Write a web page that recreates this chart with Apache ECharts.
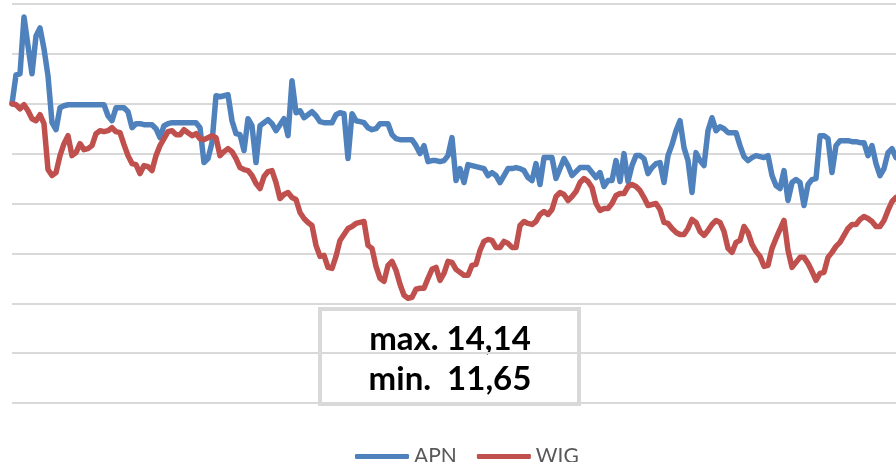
<!DOCTYPE html>
<html>
<head>
<meta charset="utf-8">
<script src="https://cdn.jsdelivr.net/npm/echarts@6/dist/echarts.min.js"></script>
<style>
  html, body { margin: 0; padding: 0; background: #fff; }
  #chart { width: 896px; height: 462px; }
</style>
</head>
<body>
<div id="chart"></div>
<script>
// index levels (start = 100), one value per session
const apn = [
  100.0, 105.8, 106.0, 117.4, 111.6, 106.0, 113.6, 115.2, 111.0, 105.6,
  96.2, 94.8, 99.2, 99.6, 99.8, 99.8, 99.8, 99.8, 99.8, 99.8,
  99.8, 99.8, 99.8, 99.8, 97.6, 96.6, 99.2, 99.2, 99.2, 98.4,
  95.2, 96.0, 96.0, 95.8, 95.8, 95.8, 95.0, 93.2, 95.6, 96.0,
  96.2, 96.2, 96.2, 96.2, 96.2, 96.2, 96.2, 95.2, 88.2, 89.0,
  92.2, 101.6, 101.4, 101.6, 101.8, 96.6, 94.0, 93.8, 90.6, 97.0,
  95.6, 88.2, 95.6, 96.2, 96.8, 96.0, 94.6, 95.8, 97.0, 93.6,
  104.6, 98.2, 98.6, 97.2, 97.8, 98.4, 97.6, 96.4, 96.2, 96.2,
  96.2, 97.8, 98.2, 98.0, 89.0, 98.0, 96.6, 96.4, 96.2, 95.2,
  94.8, 95.0, 96.0, 96.0, 96.0, 93.8, 93.0, 92.8, 92.8, 92.8,
  92.8, 91.6, 90.0, 91.6, 88.4, 88.6, 88.6, 88.4, 88.6, 89.6,
  93.2, 84.6, 87.0, 84.2, 87.8, 87.6, 87.4, 87.2, 87.0, 85.6,
  86.2, 85.6, 84.2, 85.6, 87.0, 87.0, 87.2, 87.0, 86.6, 85.2,
  84.6, 88.0, 83.8, 89.2, 89.2, 89.2, 85.0, 87.0, 89.0, 87.6,
  85.6, 86.4, 87.2, 87.2, 87.2, 86.2, 85.2, 86.2, 83.4, 84.6,
  84.6, 88.6, 84.4, 90.0, 84.4, 87.6, 89.6, 89.6, 89.0, 86.0,
  87.2, 88.0, 88.2, 84.2, 89.6, 91.8, 94.6, 96.6, 91.2, 88.6,
  82.2, 90.2, 88.6, 87.6, 94.6, 97.2, 94.6, 95.4, 95.0, 94.2,
  94.2, 94.2, 91.6, 89.4, 88.6, 89.2, 89.6, 89.4, 89.2, 89.6,
  85.6, 83.6, 83.0, 86.6, 80.6, 84.2, 84.8, 84.2, 79.6, 83.8,
  84.8, 85.0, 93.6, 93.6, 93.0, 86.2, 91.6, 92.6, 92.6, 92.6,
  92.4, 92.4, 92.2, 92.2, 89.6, 91.6, 88.0, 85.6, 87.0, 90.2,
  91.0, 89.2
];

const wig = [
  100.0, 99.8, 99.0, 99.8, 98.6, 97.0, 96.6, 97.8, 96.0, 86.8,
  85.6, 86.2, 89.6, 92.0, 93.6, 89.6, 90.2, 92.0, 90.8, 91.0,
  91.6, 94.0, 94.6, 94.4, 94.6, 95.2, 94.4, 94.2, 91.8, 89.6,
  88.0, 87.8, 86.0, 87.6, 87.4, 86.6, 89.6, 91.6, 93.0, 94.4,
  94.6, 93.8, 93.8, 94.8, 94.2, 93.6, 94.0, 93.0, 92.8, 93.2,
  93.6, 93.2, 89.6, 90.4, 91.0, 90.4, 89.0, 87.2, 86.8, 86.6,
  85.6, 84.0, 83.0, 85.4, 86.4, 86.6, 84.2, 81.0, 81.8, 82.2,
  81.2, 80.8, 78.2, 77.0, 76.2, 75.6, 71.6, 69.4, 69.6, 67.2,
  67.0, 69.4, 72.6, 73.8, 75.0, 75.4, 76.0, 76.2, 76.4, 71.6,
  71.0, 67.4, 65.0, 64.4, 67.6, 68.4, 66.6, 63.8, 61.6, 61.0,
  61.2, 62.8, 63.0, 63.0, 65.0, 66.8, 67.2, 64.6, 66.0, 68.4,
  68.2, 66.8, 66.2, 65.6, 65.6, 67.6, 67.8, 70.6, 72.4, 72.8,
  72.6, 71.2, 71.2, 72.4, 72.0, 71.2, 71.2, 75.6, 76.4, 76.0,
  75.8, 76.4, 77.8, 78.4, 77.8, 78.8, 81.4, 82.2, 81.8, 80.6,
  81.4, 82.4, 84.2, 85.0, 84.4, 83.2, 80.0, 78.6, 79.0, 79.0,
  80.0, 81.6, 82.0, 82.0, 83.4, 83.8, 83.4, 82.6, 81.2, 79.6,
  79.8, 80.0, 78.8, 76.2, 76.0, 75.0, 74.2, 73.8, 73.8, 75.0,
  76.8, 76.2, 74.4, 73.6, 74.6, 75.8, 76.6, 76.2, 74.4, 71.0,
  70.2, 72.2, 72.6, 75.4, 74.2, 71.8, 70.4, 69.4, 67.4, 67.6,
  71.0, 73.0, 74.8, 76.6, 70.6, 67.2, 68.2, 69.2, 69.2, 68.0,
  66.4, 64.6, 66.0, 66.2, 69.2, 70.2, 71.4, 72.2, 73.6, 75.0,
  75.8, 75.8, 76.8, 77.4, 77.0, 76.4, 75.4, 75.4, 76.6, 78.6,
  80.4, 81.2
];

const days = apn.map((_, i) => String(i + 1));
const seriesNames = ['APN', 'WIG'];
const annotationLines = ['max. 14,14', 'min.  11,65'];

const chart = echarts.init(document.getElementById('chart'));

chart.setOption({
  animation: false,
  color: ['#4f81bd', '#c0504d'],
  grid: { left: 12, right: 0, top: 4, bottom: 59, containLabel: false },
  legend: {
    data: seriesNames,
    top: 441,
    left: 350,
    icon: 'roundRect',
    itemWidth: 54,
    itemHeight: 5,
    itemGap: 20,
    textStyle: { color: '#595959', fontSize: 21, fontFamily: 'Lato' }
  },
  xAxis: {
    type: 'category',
    data: days,
    boundaryGap: false,
    axisLine: { show: false },
    axisTick: { show: false },
    axisLabel: { show: false }
  },
  yAxis: {
    type: 'value',
    min: 40,
    max: 120,
    interval: 10,
    axisLine: { show: false },
    axisTick: { show: false },
    axisLabel: { show: false },
    splitLine: { lineStyle: { color: '#d9d9d9', width: 2 } }
  },
  series: [
    {
      name: seriesNames[0],
      type: 'line',
      data: apn,
      symbol: 'none',
      lineStyle: { width: 5.5, join: 'round', cap: 'round' }
    },
    {
      name: seriesNames[1],
      type: 'line',
      data: wig,
      symbol: 'none',
      lineStyle: { width: 5.5, join: 'round', cap: 'round' }
    }
  ],
  graphic: [
    {
      type: 'group',
      left: 318,
      top: 307,
      z: 100,
      children: [
        {
          type: 'rect',
          shape: { x: 0, y: 0, width: 259, height: 95 },
          style: { fill: '#fff', stroke: '#d9d9d9', lineWidth: 4 }
        },
        {
          type: 'text',
          x: 130,
          y: 30,
          style: {
            text: annotationLines[0],
            font: 'bold 33px Lato',
            fill: '#000',
            align: 'center',
            verticalAlign: 'middle'
          }
        },
        {
          type: 'text',
          x: 130,
          y: 70,
          style: {
            text: annotationLines[1],
            font: 'bold 33px Lato',
            fill: '#000',
            align: 'center',
            verticalAlign: 'middle'
          }
        }
      ]
    }
  ]
});
</script>
</body>
</html>
